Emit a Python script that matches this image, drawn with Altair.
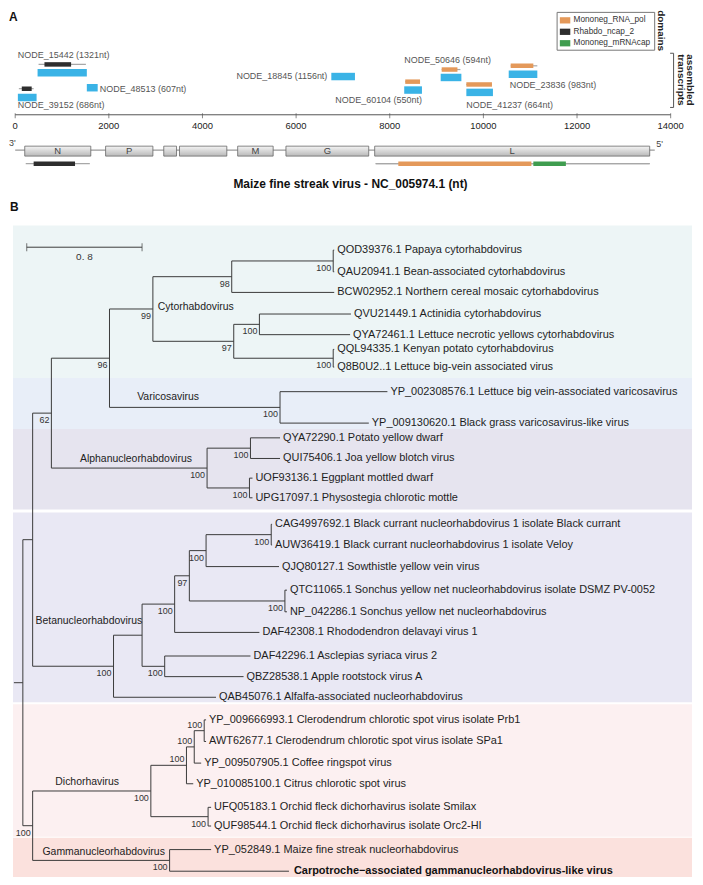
import altair as alt
import pandas as pd

FONT = "Liberation Sans"

# ======================= Panel A data =======================
axis_ticks = [0, 2000, 4000, 6000, 8000, 10000, 12000, 14000]

tx_names = ["NODE_15442 (1321nt)", "NODE_48513 (607nt)", "NODE_39152 (686nt)",
            "NODE_18845 (1156nt)", "NODE_60104 (550nt)", "NODE_50646 (594nt)",
            "NODE_41237 (664nt)", "NODE_23836 (983nt)"]
tx_start = [478, 1530, 57, 6752, 8309, 9088, 9636, 10541]
tx_end = [1530, 1762, 457, 7257, 8688, 9530, 10204, 11152]
tx_track = [63, 79, 89.5, 67, 81.5, 68, 84, 64.5]
tx_label_at = [57, 1806, 57, 6667, 8688, 8310, 9636, 10562]
tx_label_track = [44, 80, 98, 66, 92, 49, 98, 76]
tx_label_align = ["left", "left", "left", "right", "right", "left", "left", "left"]

domain_types = ["Mononeg_RNA_pol", "Rhabdo_ncap_2", "Mononeg_mRNAcap"]
domain_colors = ["#e4995a", "#2e2e2e", "#3f9d4f"]

hit_type = ["Rhabdo_ncap_2", "Rhabdo_ncap_2", "Mononeg_RNA_pol", "Mononeg_RNA_pol",
            "Mononeg_RNA_pol", "Mononeg_RNA_pol", "Rhabdo_ncap_2", "Mononeg_RNA_pol",
            "Mononeg_mRNAcap"]
hit_span_start = [499, 78, 8331, 9109, 9636, 10583, 225, 7699, 7699]
hit_span_end = [1510, 394, 8647, 9509, 10183, 11152, 1594, 13552, 13552]
hit_start = [625, 141, 8331, 9109, 9636, 10583, 394, 8183, 11067]
hit_end = [1194, 352, 8647, 9446, 10183, 11067, 1278, 11025, 11762]
hit_track = [54, 80, 72.5, 59.5, 75.5, 55.5, 160.5, 160.5, 160.5]

gene_labels = ["N", "P", "", "", "M", "G", "L"]
gene_start = [204, 1931, 3173, 3509, 4752, 5783, 7678]
gene_end = [1615, 2941, 3446, 4520, 5510, 7551, 13552]
genome_length = 13660
genome_track = 146
gene_track = 147
axis_track = 108

# ======================= Panel B data =======================
int_id = ["R", "U", "N62", "N96", "CYT", "N98", "PB", "N97c", "ACT", "QQ", "VAR",
          "ALP", "QYQ", "UU", "BET", "B138", "BIN", "B97", "B160", "CA", "QN", "AA",
          "DG", "DIC", "D183", "D191", "D201", "ORC", "GAM"]
int_parent = [None, "R", "U", "N62", "N96", "CYT", "N98", "CYT", "N97c", "N97c", "N96",
              "N62", "ALP", "ALP", "U", "BET", "B138", "BIN", "B97", "B160", "B97", "B138",
              "R", "DG", "DIC", "D183", "D191", "DIC", "DG"]
int_depth = [0.062, 0.130, 0.260, 0.663, 0.964, 1.511, 2.215, 1.525, 1.703, 2.215, 1.846,
             1.340, 1.641, 1.634, 0.691, 0.889, 1.115, 1.217, 1.333, 1.785, 1.880, 1.046,
             0.130, 0.950, 1.197, 1.251, 1.320, 1.347, 1.080]
int_support = [None, None, 62, 96, 99, 98, 100, 97, 100, 100, 100,
               100, 100, 100, 100, None, 100, 97, 100, 100, 100, 100,
               100, 100, 100, 100, 100, 100, 100]
int_support_side = ["below"] * 24 + ["above", "above", "above", "below", "below"]

leaf_names = [
    "QOD39376.1 Papaya cytorhabdovirus",
    "QAU20941.1 Bean-associated cytorhabdovirus",
    "BCW02952.1 Northern cereal mosaic cytorhabdovirus",
    "QVU21449.1 Actinidia cytorhabdovirus",
    "QYA72461.1 Lettuce necrotic yellows cytorhabdovirus",
    "QQL94335.1 Kenyan potato cytorhabdovirus",
    "Q8B0U2..1 Lettuce big-vein associated virus",
    "YP_002308576.1 Lettuce big vein-associated varicosavirus",
    "YP_009130620.1 Black grass varicosavirus-like virus",
    "QYA72290.1 Potato yellow dwarf",
    "QUI75406.1 Joa yellow blotch virus",
    "UOF93136.1 Eggplant mottled dwarf",
    "UPG17097.1 Physostegia chlorotic mottle",
    "CAG4997692.1 Black currant nucleorhabdovirus 1 isolate Black currant",
    "AUW36419.1 Black currant nucleorhabdovirus 1 isolate Veloy",
    "QJQ80127.1 Sowthistle yellow vein virus",
    "QTC11065.1 Sonchus yellow net nucleorhabdovirus isolate DSMZ PV-0052",
    "NP_042286.1 Sonchus yellow net nucleorhabdovirus",
    "DAF42308.1 Rhododendron delavayi virus 1",
    "DAF42296.1 Asclepias syriaca virus 2",
    "QBZ28538.1 Apple rootstock virus A",
    "QAB45076.1 Alfalfa-associated nucleorhabdovirus",
    "YP_009666993.1 Clerodendrum chlorotic spot virus  isolate Prb1",
    "AWT62677.1 Clerodendrum chlorotic spot virus isolate SPa1",
    "YP_009507905.1 Coffee ringspot virus",
    "YP_010085100.1 Citrus chlorotic spot virus",
    "UFQ05183.1 Orchid fleck dichorhavirus  isolate Smilax",
    "QUF98544.1 Orchid fleck dichorhavirus  isolate Orc2-HI",
    "YP_052849.1 Maize fine streak nucleorhabdovirus",
    "Carpotroche\u2212associated gammanucleorhabdovirus-like virus",
]
leaf_parent = ["PB", "PB", "N98", "ACT", "ACT", "QQ", "QQ", "VAR", "VAR", "QYQ", "QYQ",
               "UU", "UU", "CA", "CA", "B160", "QN", "QN", "BIN", "AA", "AA", "BET",
               "D201", "D201", "D191", "D183", "ORC", "ORC", "GAM", "GAM"]
leaf_depth = [2.222, 2.222, 2.222, 2.338, 2.332, 2.222, 2.222, 2.591, 2.462, 1.846, 1.846,
              1.655, 1.655, 1.791, 1.791, 1.839, 1.894, 1.894, 1.703, 1.641, 1.593, 1.402,
              1.333, 1.333, 1.299, 1.244, 1.368, 1.368, 1.368, 1.908]
leaf_row = [245, 267, 288, 310, 331, 346, 364, 389, 421, 436, 457, 477, 497, 524, 545,
            567, 591, 613, 634, 658, 679, 700, 723, 745, 767, 788, 812, 831, 855, 877]
leaf_bold = [False] * 29 + [True]

clade_names = ["Cytorhabdovirus", "Varicosavirus", "Alphanucleorhabdovirus",
               "Betanucleorhabdovirus", "Dichorhavirus", "Gammanucleorhabdovirus"]
band_top = [220, 375, 427, 512, 707, 843]
band_bottom = [375, 427, 509, 705, 842, 883]
band_color = ["#edf5f6", "#e8eef8", "#e6e4ef", "#e9e8f4", "#fcf0f1", "#fbe1dd"]
clade_label_depth = [0.998, 0.855, 0.458, 0.150, 0.287, 0.198]
clade_label_row = [303, 394, 458, 622, 786, 857]

scalebar_start = 0.089
scalebar_len = 0.8
scalebar_row = 242
scalebar_label_row = 252

# ======================= Layout =======================
W, HA, HB = 687, 187, 682
xA = alt.Scale(domain=[-153.7, 14456], nice=False, zero=False)
yA = alt.Scale(domain=[3, 192], range=[0, HA], nice=False, zero=False)
xB = alt.Scale(domain=[-0.041, 4.704], nice=False, zero=False)
yB = alt.Scale(domain=[192, 883], range=[0, HB], nice=False, zero=False)

def loc_a(r):
    return (r - 3) * HA / 189

LINE = "#3a3a3a"

XA = lambda f: alt.X(f, scale=xA, axis=None)
YA = lambda f: alt.Y(f, scale=yA, axis=None)

# ----------------------- Panel A -----------------------
df_axis = pd.DataFrame({"a": [axis_ticks[0]], "b": [axis_ticks[-1]], "r": [axis_track]})
axis_line = alt.Chart(df_axis).mark_rule(color="#555", strokeWidth=1).encode(
    x=XA("a:Q"), x2="b:Q", y=YA("r:Q"))
df_ticks = pd.DataFrame({"v": axis_ticks, "r": [axis_track] * len(axis_ticks)})
axis_tk = alt.Chart(df_ticks).mark_tick(orient="vertical", size=5, thickness=1,
                                        color="#555", yOffset=1).encode(
    x=XA("v:Q"), y=YA("r:Q"))
axis_lab = alt.Chart(df_ticks).mark_text(fontSize=9.5, color="#222", font=FONT,
                                         baseline="middle", dy=11).encode(
    x=XA("v:Q"), y=YA("r:Q"), text=alt.Text("v:Q", format="d"))

df_tx = pd.DataFrame({"name": tx_names, "s": tx_start, "e": tx_end, "t": tx_track,
                      "lx": tx_label_at, "lt": tx_label_track, "al": tx_label_align})
tx_bars = alt.Chart(df_tx).mark_bar(orient="horizontal", size=7.5, color="#3ab3e6").encode(
    x=XA("s:Q"), x2="e:Q", y=YA("t:Q"))
tx_lab_l = alt.Chart(df_tx).transform_filter("datum.al == 'left'").mark_text(
    align="left", baseline="middle", fontSize=9, color="#555", font=FONT).encode(
    x=XA("lx:Q"), y=YA("lt:Q"), text="name:N")
tx_lab_r = alt.Chart(df_tx).transform_filter("datum.al == 'right'").mark_text(
    align="right", baseline="middle", fontSize=9, color="#555", font=FONT).encode(
    x=XA("lx:Q"), y=YA("lt:Q"), text="name:N")

df_hit = pd.DataFrame({"type": hit_type, "ss": hit_span_start, "se": hit_span_end,
                       "s": hit_start, "e": hit_end, "t": hit_track})
hit_span = alt.Chart(df_hit).mark_rule(color="#a8a8a8", strokeWidth=1.2).encode(
    x=XA("ss:Q"), x2="se:Q", y=YA("t:Q"))
hit_bars = alt.Chart(df_hit).mark_bar(orient="horizontal", size=4.5).encode(
    x=XA("s:Q"), x2="e:Q", y=YA("t:Q"),
    color=alt.Color("type:N", scale=alt.Scale(domain=domain_types, range=domain_colors),
                    legend=alt.Legend(orient="none", legendX=551, legendY=0, title=None,
                                      strokeColor="#777", fillColor="white", padding=3,
                                      symbolType="M-1,-0.6L1,-0.6L1,0.6L-1,0.6Z", symbolSize=110,
                                      symbolStrokeWidth=0, labelFontSize=8.3, labelFont=FONT,
                                      labelColor="#333", rowPadding=2.5, labelOffset=3)))

df_genome = pd.DataFrame({"a": [0], "b": [genome_length], "t": [genome_track]})
backbone = alt.Chart(df_genome).mark_rule(color="#9a9a9a", strokeWidth=1.2).encode(
    x=XA("a:Q"), x2="b:Q", y=YA("t:Q"))

df_gene = pd.DataFrame({"g": gene_labels, "s": gene_start, "e": gene_end,
                        "t": [gene_track] * len(gene_labels)})
df_gene["m"] = (df_gene["s"] + df_gene["e"]) / 2
gene_fill = alt.Gradient(gradient="linear", x1=0, x2=0, y1=0, y2=1,
                         stops=[alt.GradientStop(color="#f4f4f4", offset=0),
                                alt.GradientStop(color="#d6d6d6", offset=0.5),
                                alt.GradientStop(color="#b9b9b9", offset=1)])
gene_boxes = alt.Chart(df_gene).mark_bar(orient="horizontal", size=10, fill=gene_fill,
                                         stroke="#666", strokeWidth=0.8).encode(
    x=XA("s:Q"), x2="e:Q", y=YA("t:Q"))
gene_text = alt.Chart(df_gene).mark_text(fontSize=9.5, color="#444", font=FONT,
                                         baseline="middle").encode(
    x=XA("m:Q"), y=YA("t:Q"), text="g:N")

def note(txt, x, y, **kw):
    return alt.Chart(pd.DataFrame({"t": [txt]})).mark_text(font=FONT, **kw).encode(
        text="t:N", x=alt.value(x), y=alt.value(y))

a_label = note("A", 1, loc_a(8), fontSize=12, fontWeight="bold", align="left",
               baseline="middle", color="#111")
three = note("3'", 1, loc_a(136), fontSize=9, align="left", baseline="middle", color="#444")
five = note("5'", 651, loc_a(137), fontSize=9, align="left", baseline="middle", color="#444")
titleA = note("Maize fine streak virus - NC_005974.1 (nt)", 344, loc_a(178), fontSize=12,
              fontWeight="bold", align="center", baseline="middle", color="#111")
dom_lab = note("domains", 656, loc_a(22), fontSize=10, fontWeight="bold", angle=90,
               align="center", baseline="middle", color="#222")
asm_lab = note("assembled", 685, loc_a(72), fontSize=10, fontWeight="bold", angle=90,
               align="center", baseline="middle", color="#222")
trn_lab = note("transcripts", 676, loc_a(72), fontSize=10, fontWeight="bold", angle=90,
               align="center", baseline="middle", color="#222")
bracket_df = pd.DataFrame({"k": [0]})
bracket = alt.layer(
    alt.Chart(bracket_df).mark_rule(color="#555").encode(
        x=alt.value(668.5), y=alt.value(loc_a(45)), y2=alt.value(loc_a(100))),
    alt.Chart(bracket_df).mark_rule(color="#555").encode(
        x=alt.value(665), x2=alt.value(668.5), y=alt.value(loc_a(45))),
    alt.Chart(bracket_df).mark_rule(color="#555").encode(
        x=alt.value(665), x2=alt.value(668.5), y=alt.value(loc_a(100))),
)

panelA = alt.layer(axis_line, axis_tk, axis_lab, backbone, gene_boxes, gene_text,
                   hit_span, hit_bars, tx_bars, tx_lab_l, tx_lab_r, a_label, three, five,
                   titleA, dom_lab, asm_lab, trn_lab, bracket).properties(width=W, height=HA)

# ----------------------- Panel B -----------------------
depth = dict(zip(int_id, int_depth))
parent = dict(zip(int_id, int_parent))
children = {n: [] for n in int_id}
for n, p in zip(int_id, int_parent):
    if p is not None:
        children[p].append(n)
leaf_y = {}
for nm, p, d, r in zip(leaf_names, leaf_parent, leaf_depth, leaf_row):
    depth[nm] = d
    parent[nm] = p
    leaf_y[nm] = r
    children[p].append(nm)

def node_y(n):
    if n in leaf_y:
        return leaf_y[n]
    ys = [node_y(c) for c in children[n]]
    return (min(ys) + max(ys)) / 2

h_rows = []
for n in list(int_id) + list(leaf_names):
    p = parent[n]
    x0 = depth[p] if p is not None else 0.0
    h_rows.append({"x0": x0, "x1": depth[n], "y": node_y(n)})
df_h = pd.DataFrame(h_rows)
v_rows = []
for n in int_id:
    ys = [node_y(c) for c in children[n]]
    v_rows.append({"x": depth[n], "y0": min(ys), "y1": max(ys)})
df_v = pd.DataFrame(v_rows)

sup_rows = []
for n, s, side in zip(int_id, int_support, int_support_side):
    if s is not None:
        sup_rows.append({"x": depth[n], "y": node_y(n), "s": str(s), "side": side})
df_sup = pd.DataFrame(sup_rows)

df_leaf = pd.DataFrame({"name": leaf_names, "x": leaf_depth, "y": leaf_row, "bold": leaf_bold})
df_band = pd.DataFrame({"top": band_top, "bottom": band_bottom, "c": band_color})
df_clade = pd.DataFrame({"name": clade_names, "x": clade_label_depth, "y": clade_label_row})
df_sb = pd.DataFrame({"a": [scalebar_start], "b": [scalebar_start + scalebar_len],
                      "m": [scalebar_start + scalebar_len / 2], "y": [scalebar_row],
                      "ly": [scalebar_label_row], "lab": [str(scalebar_len).replace(".", ". ")]})
df_sb_ends = pd.DataFrame({"x": [scalebar_start, scalebar_start + scalebar_len],
                           "y": [scalebar_row, scalebar_row]})

XB = lambda f: alt.X(f, scale=xB, axis=None)
YB = lambda f: alt.Y(f, scale=yB, axis=None)

bands = alt.Chart(df_band).mark_rect().encode(
    x=alt.value(5), x2=alt.value(W), y=YB("top:Q"), y2="bottom:Q",
    fill=alt.Fill("c:N", scale=None))
h_lines = alt.Chart(df_h).mark_rule(color=LINE, strokeWidth=1).encode(
    x=XB("x0:Q"), x2="x1:Q", y=YB("y:Q"))
v_lines = alt.Chart(df_v).mark_rule(color=LINE, strokeWidth=1).encode(
    x=XB("x:Q"), y=YB("y0:Q"), y2="y1:Q")
leaf_txt = alt.Chart(df_leaf).transform_filter("!datum.bold").mark_text(
    align="left", baseline="middle", dx=3, fontSize=11, color="#1e1e1e", font=FONT).encode(
    x=XB("x:Q"), y=YB("y:Q"), text="name:N")
leaf_txt_b = alt.Chart(df_leaf).transform_filter("datum.bold").mark_text(
    align="left", baseline="middle", dx=5, fontSize=11, fontWeight="bold", color="#111",
    font=FONT).encode(x=XB("x:Q"), y=YB("y:Q"), text="name:N")
sup_below = alt.Chart(df_sup).transform_filter("datum.side == 'below'").mark_text(
    align="right", baseline="middle", dx=-2, dy=7, fontSize=9, color="#333", font=FONT).encode(
    x=XB("x:Q"), y=YB("y:Q"), text="s:N")
sup_above = alt.Chart(df_sup).transform_filter("datum.side == 'above'").mark_text(
    align="right", baseline="middle", dx=-2, dy=-6, fontSize=9, color="#333", font=FONT).encode(
    x=XB("x:Q"), y=YB("y:Q"), text="s:N")
clade_txt = alt.Chart(df_clade).mark_text(
    align="left", baseline="middle", fontSize=10.5, color="#222", font=FONT).encode(
    x=XB("x:Q"), y=YB("y:Q"), text="name:N")
sb_line = alt.Chart(df_sb).mark_rule(color=LINE, strokeWidth=1).encode(
    x=XB("a:Q"), x2="b:Q", y=YB("y:Q"))
sb_ends = alt.Chart(df_sb_ends).mark_tick(orient="vertical", size=8, thickness=1,
                                          color=LINE).encode(x=XB("x:Q"), y=YB("y:Q"))
sb_lab = alt.Chart(df_sb).mark_text(fontSize=10, color="#333", font=FONT,
                                    baseline="middle").encode(
    x=XB("m:Q"), y=YB("ly:Q"), text="lab:N")
b_label = alt.Chart(pd.DataFrame({"t": ["B"]})).mark_text(
    font=FONT, fontSize=12, fontWeight="bold", align="left", baseline="middle",
    color="#111").encode(text="t:N", x=alt.value(2), y=alt.value(9))

panelB = alt.layer(bands, h_lines, v_lines, leaf_txt, leaf_txt_b, sup_below, sup_above,
                   clade_txt, sb_line, sb_ends, sb_lab, b_label).properties(width=W, height=HB)

chart = alt.vconcat(panelA, panelB, spacing=0, padding=0).resolve_scale(
    x="independent", y="independent").configure(font=FONT).configure_view(stroke=None)

chart.save("out.html", embed_options={"renderer": "svg", "actions": False})
